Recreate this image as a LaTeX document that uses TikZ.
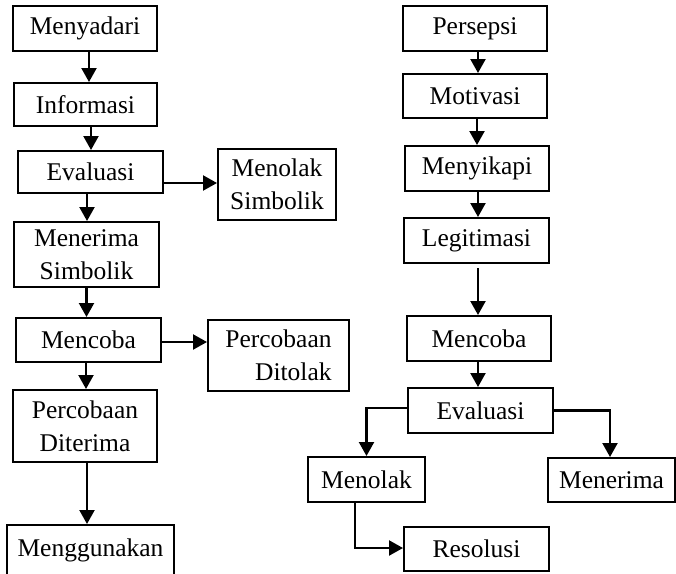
\documentclass[tikz,border=0pt]{standalone}
\usepackage{fontspec}
\setmainfont{Liberation Serif}
\usetikzlibrary{arrows.meta,calc}
\begin{document}
\begin{tikzpicture}[x=1pt,y=-1pt,
  box/.style={draw,line width=2pt,inner sep=0pt,align=center,font=\fontsize{25.5}{33}\selectfont},
  arr/.style={line width=2.2pt,-{Triangle[length=14pt,width=15pt]}}]
\clip (0,0) rectangle (676,573);
\useasboundingbox (0,0) rectangle (676,573);
% left column
\node[box,minimum width=144pt,minimum height=45pt] (menyadari) at (85,28.5) {Menyadari};
\node[box,minimum width=143pt,minimum height=43pt] (informasi) at (85.5,104.5) {Informasi};
\node[box,minimum width=145pt,minimum height=42pt] (evalL) at (90.5,172) {Evaluasi};
\node[box,minimum width=118pt,minimum height=71pt] (menolakS) at (277,184.5) {Menolak\\Simbolik};
\node[box,minimum width=145pt,minimum height=65pt] (menerimaS) at (86.5,254.5) {Menerima\\Simbolik};
\node[box,minimum width=145pt,minimum height=44pt] (mencobaL) at (88.5,340) {Mencoba};
\node[box,minimum width=141pt,minimum height=71pt,align=right] (ditolak) at (278.5,355.5) {Percobaan\\Ditolak};
\node[box,minimum width=144pt,minimum height=72pt] (diterima) at (85,426) {Percobaan\\Diterima};
\node[box,anchor=north,minimum width=167pt,text height=31pt,text depth=45pt] (menggunakan) at (90.5,524) {Menggunakan};
% right column
\node[box,minimum width=144pt,minimum height=45pt] (persepsi) at (475,28.5) {Persepsi};
\node[box,minimum width=144pt,minimum height=44pt] (motivasi) at (475,96) {Motivasi};
\node[box,minimum width=144pt,minimum height=45pt] (menyikapi) at (477,168.5) {Menyikapi};
\node[box,minimum width=145pt,minimum height=45pt] (legitimasi) at (476.5,240.5) {Legitimasi};
\node[box,minimum width=144pt,minimum height=45pt] (mencobaR) at (479,338.5) {Mencoba};
\node[box,minimum width=145pt,minimum height=45pt] (evalR) at (480.5,410.5) {Evaluasi};
\node[box,minimum width=117pt,minimum height=45pt] (menolak) at (366.5,479.5) {Menolak};
\node[box,minimum width=127pt,minimum height=44pt] (menerima) at (611.5,480) {Menerima};
\node[box,minimum width=145pt,minimum height=44pt] (resolusi) at (476.5,549) {Resolusi};
% left connectors
\draw[arr] ([xshift=4pt]menyadari.south) -- ([xshift=4pt]menyadari.south |- informasi.north);
\draw[arr] ([xshift=5.5pt]informasi.south) -- ([xshift=5.5pt]informasi.south |- evalL.north);
\draw[arr] ([xshift=-3.5pt]evalL.south) -- ([xshift=-3.5pt]evalL.south |- menerimaS.north);
\draw[arr] ([yshift=-11pt]evalL.east) -- ([yshift=-11pt]evalL.east -| menolakS.west);
\draw[arr] (menerimaS.south) -- (menerimaS.south |- mencobaL.north);
\draw[arr] ([yshift=-2pt]mencobaL.east) -- ([yshift=-2pt]mencobaL.east -| ditolak.west);
\draw[arr] ([xshift=-2.5pt]mencobaL.south) -- ([xshift=-2.5pt]mencobaL.south |- diterima.north);
\draw[arr] ([xshift=2pt]diterima.south) -- ([xshift=2pt]diterima.south |- menggunakan.north);
% right connectors
\draw[arr] ([xshift=3pt]persepsi.south) -- ([xshift=3pt]persepsi.south |- motivasi.north);
\draw[arr] ([xshift=2pt]motivasi.south) -- ([xshift=2pt]motivasi.south |- menyikapi.north);
\draw[arr] ([xshift=1pt]menyikapi.south) -- ([xshift=1pt]menyikapi.south |- legitimasi.north);
\draw[arr] ([xshift=1.5pt,yshift=-4pt]legitimasi.south) -- ([xshift=1.5pt]legitimasi.south |- mencobaR.north);
\draw[arr] ([xshift=-1pt]mencobaR.south) -- ([xshift=-1pt]mencobaR.south |- evalR.north);
\draw[arr] ([yshift=2.5pt]evalR.west) -| (menolak.north);
\draw[arr] (evalR.east) -| ([xshift=-1.5pt]menerima.north);
\draw[arr] ([xshift=-11.5pt]menolak.south) |- ($(resolusi.west)+(0,-1)$);
\end{tikzpicture}
\end{document}
